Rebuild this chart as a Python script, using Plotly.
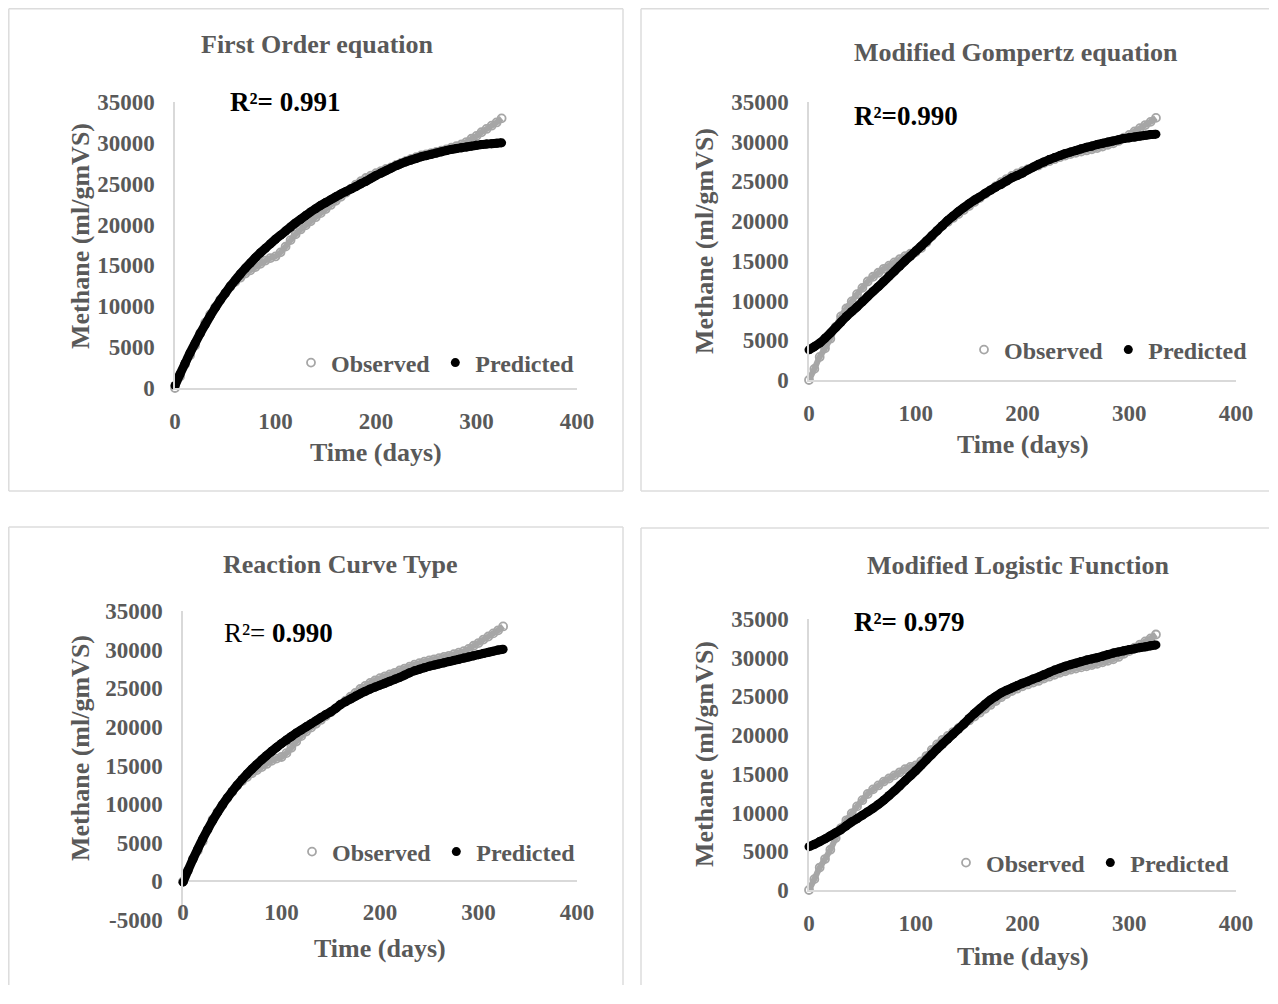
import plotly.graph_objects as go

# page body has an 8 px margin: the figure starts at (8, 8) in the window.
# keep the figure a little smaller than the window so no scrollbars appear
OX, OY = 8, 8
FW, FH = 1262, 978
XMAX, YMAX = OX + FW - 1, OY + FH - 1   # last visible pixel of the figure

# ---------------- data ----------------
days = [0, 5, 10, 15, 20, 25, 30, 35, 40, 45, 50, 55, 60, 65, 70, 75, 80, 85, 90, 95,
        100, 105, 110, 115, 120, 125, 130, 135, 140, 145, 150, 155, 160, 165, 170, 175,
        180, 185, 190, 195, 200, 205, 210, 215, 220, 225, 230, 235, 240, 245, 250, 255,
        260, 265, 270, 275, 280, 285, 290, 295, 300, 305, 310, 315, 320, 325]

observed = [0, 1400, 2900, 4000, 5200, 6700, 8000, 9000, 9900, 10800, 11600, 12400, 13000,
            13500, 14000, 14400, 14800, 15200, 15600, 15900, 16100, 16600, 17300, 18100,
            18800, 19400, 19900, 20400, 20900, 21400, 21900, 22400, 22900, 23400, 23900,
            24400, 24900, 25300, 25700, 26000, 26300, 26550, 26800, 27000, 27300, 27550,
            27800, 28050, 28250, 28450, 28600, 28750, 28900, 29050, 29200, 29400, 29600,
            29800, 30100, 30500, 30850, 31300, 31700, 32100, 32500, 33000]

pred_first_order = [300, 1700, 3000, 4300, 5500, 6650, 7750, 8800, 9800, 10750, 11600, 12450,
                    13200, 13950, 14650, 15300, 15950, 16550, 17100, 17650, 18200, 18700,
                    19200, 19700, 20200, 20650, 21100, 21550, 21950, 22350, 22700, 23050,
                    23400, 23750, 24050, 24350, 24650, 25000, 25300, 25650, 26000, 26300,
                    26600, 26900, 27200, 27450, 27700, 27900, 28100, 28300, 28450, 28600,
                    28750, 28900, 29050, 29200, 29300, 29400, 29500, 29600, 29700, 29800,
                    29850, 29900, 29950, 30000]

pred_gompertz = [3800, 4200, 4650, 5250, 5900, 6600, 7300, 8000, 8600, 9200, 9850, 10500,
                 11150, 11750, 12400, 13050, 13700, 14350, 15000, 15600, 16250, 16850, 17500,
                 18150, 18800, 19450, 20100, 20650, 21200, 21700, 22200, 22650, 23050, 23500,
                 23900, 24300, 24650, 25050, 25450, 25750, 26050, 26450, 26800, 27150, 27450,
                 27750, 28000, 28250, 28500, 28700, 28900, 29100, 29300, 29450, 29650, 29800,
                 29950, 30100, 30250, 30400, 30500, 30600, 30700, 30800, 30900, 30950]

pred_reaction = [-100, 1400, 2850, 4200, 5500, 6700, 7850, 8900, 9900, 10800, 11650, 12450,
                 13200, 13900, 14550, 15150, 15750, 16300, 16850, 17350, 17850, 18300, 18750,
                 19200, 19600, 20000, 20400, 20800, 21200, 21600, 21950, 22400, 22900, 23250,
                 23600, 23950, 24300, 24600, 24900, 25150, 25400, 25650, 25900, 26150, 26400,
                 26700, 27000, 27250, 27450, 27650, 27850, 28000, 28150, 28300, 28450, 28600,
                 28750, 28900, 29050, 29200, 29350, 29500, 29650, 29800, 29950, 30050]

pred_logistic = [5600, 5900, 6250, 6600, 7000, 7400, 7800, 8300, 8800, 9200, 9650, 10100,
                 10550, 11050, 11600, 12200, 12800, 13450, 14100, 14750, 15400, 16100, 16800,
                 17500, 18200, 18850, 19500, 20150, 20800, 21450, 22150, 22800, 23400, 24000,
                 24550, 25000, 25450, 25800, 26100, 26400, 26700, 26950, 27250, 27500, 27800,
                 28100, 28400, 28650, 28900, 29100, 29300, 29500, 29700, 29850, 30000, 30200,
                 30400, 30600, 30750, 30900, 31050, 31150, 31300, 31400, 31550, 31650]

panel_titles = ["First Order equation", "Modified Gompertz equation",
                "Reaction Curve Type", "Modified Logistic Function"]
r2_texts = ["<b>R²= 0.991</b>", "<b>R²=0.990</b>", "R²= <b>0.990</b>", "<b>R²= 0.979</b>"]
x_title = "Time (days)"
y_title = "Methane (ml/gmVS)"
predictions = [pred_first_order, pred_gompertz, pred_reaction, pred_logistic]
x_ticks = [0, 100, 200, 300, 400]
y_ticks = [0, 5000, 10000, 15000, 20000, 25000, 30000, 35000]
y_ticks_neg = [-5000, 0, 5000, 10000, 15000, 20000, 25000, 30000, 35000]
y_ranges = [[0, 35000], [0, 35000], [-5000, 35000], [0, 35000]]

# ---------------- layout (pixel geometry in window coordinates) ----------------
def px(x):
    return (x - OX) / FW

def py(y):
    return 1 - (y - OY) / FH

# plot areas: (x_left, x_right, y_top, y_bottom)
areas = [(175, 577, 102, 388), (809, 1236, 102, 380),
         (183, 577, 611, 920), (809, 1236, 619, 890)]
# panel border edges: (x0, y0, x1, y1) per edge, kept inside the figure
box_edges = [
    [(8.8, 8.8, 623, 8.8), (8.8, 8.8, 8.8, 491), (623, 8.8, 623, 491), (8.8, 491, 623, 491)],
    [(641, 8.8, XMAX, 8.8), (641, 8.8, 641, 491), (641, 491, XMAX, 491)],
    [(8.8, 527, 623, 527), (8.8, 527, 8.8, YMAX), (623, 527, 623, YMAX)],
    [(641, 528, XMAX, 528), (641, 528, 641, YMAX)],
]
title_pos = [(317, 44), (1016, 52), (340, 564), (1018, 565)]
r2_pos = [(228, 102), (852, 116), (222, 633), (852, 622)]
legend_pos = [(291, 363), (964, 350), (292, 852), (946, 863)]
ytitle_pos = [(80, 236), (704, 241), (80, 748), (704, 754)]
xtitle_pos = [(376, 453), (1023, 445), (380, 948), (1023, 956)]

GRAY_TXT = "#595959"
AXIS_C = "#d9d9d9"
OBS_C = "#a6a6a6"
FONT = "Liberation Serif"

fig = go.Figure()

for i in range(4):
    n = "" if i == 0 else str(i + 1)
    leg = "legend" if i == 0 else "legend" + str(i + 1)
    fig.add_trace(go.Scatter(
        x=days, y=observed, mode="lines", showlegend=False, hoverinfo="skip",
        xaxis="x" + n, yaxis="y" + n, cliponaxis=False,
        line=dict(color=OBS_C, width=6, shape="spline", smoothing=0.6),
    ))
    fig.add_trace(go.Scatter(
        x=days, y=observed, mode="markers", name="Observed",
        xaxis="x" + n, yaxis="y" + n, legend=leg, cliponaxis=False,
        marker=dict(symbol="circle-open", size=8, color=OBS_C,
                    line=dict(width=1.8, color=OBS_C)),
    ))
    fig.add_trace(go.Scatter(
        x=days, y=predictions[i], mode="lines", showlegend=False, hoverinfo="skip",
        xaxis="x" + n, yaxis="y" + n, cliponaxis=False,
        line=dict(color="black", width=9, shape="spline", smoothing=0.6),
    ))
    fig.add_trace(go.Scatter(
        x=days, y=predictions[i], mode="markers", name="Predicted",
        xaxis="x" + n, yaxis="y" + n, legend=leg, cliponaxis=False,
        marker=dict(symbol="circle", size=9, color="black"),
    ))

layout = dict(
    width=FW, height=FH,
    margin=dict(l=0, r=0, t=0, b=0, autoexpand=False),
    paper_bgcolor="white", plot_bgcolor="white",
    font=dict(family=FONT, color=GRAY_TXT, size=23, weight="bold"),
    shapes=[], annotations=[],
)

tickfont = dict(family=FONT, size=23, color=GRAY_TXT, weight="bold")
titlefont = dict(family=FONT, size=26, color=GRAY_TXT, weight="bold")

for i in range(4):
    n = "" if i == 0 else str(i + 1)
    xl, xr, yt, yb = areas[i]
    yv = y_ticks_neg if i == 2 else y_ticks
    xa = dict(
        domain=[px(xl), px(xr)], range=[0, 400], anchor="y" + n,
        tickvals=x_ticks, showgrid=False, zeroline=False,
        showline=(i != 2), linecolor=AXIS_C, linewidth=1.5,
        tickfont=tickfont, ticks="", ticklabelstandoff=(-24 if i == 2 else 12),
        automargin=False, fixedrange=True,
    )
    ya = dict(
        domain=[py(yb), py(yt)], range=y_ranges[i], anchor="x" + n,
        tickvals=yv, ticktext=[str(v) for v in yv], showgrid=False,
        zeroline=(i == 2), zerolinecolor=AXIS_C, zerolinewidth=1.5,
        showline=True, linecolor=AXIS_C, linewidth=1.5,
        tickfont=tickfont, ticks="", ticklabelstandoff=14,
        automargin=False, fixedrange=True,
    )
    layout["xaxis" + n] = xa
    layout["yaxis" + n] = ya

    for (ex0, ey0, ex1, ey1) in box_edges[i]:
        layout["shapes"].append(dict(
            type="line", xref="paper", yref="paper",
            x0=px(ex0), x1=px(ex1), y0=py(ey0), y1=py(ey1),
            line=dict(color="#dcdcdc", width=1.5), layer="below",
        ))
    tx, ty = title_pos[i]
    layout["annotations"].append(dict(
        text=panel_titles[i], xref="paper", yref="paper", x=px(tx), y=py(ty),
        xanchor="center", yanchor="middle", showarrow=False, font=titlefont,
    ))
    ax_, ay_ = xtitle_pos[i]
    layout["annotations"].append(dict(
        text=x_title, xref="paper", yref="paper", x=px(ax_), y=py(ay_),
        xanchor="center", yanchor="middle", showarrow=False, font=titlefont,
    ))
    yx_, yy_ = ytitle_pos[i]
    layout["annotations"].append(dict(
        text=y_title, xref="paper", yref="paper", x=px(yx_), y=py(yy_), textangle=-90,
        xanchor="center", yanchor="middle", showarrow=False, font=titlefont,
    ))
    rx, ry = r2_pos[i]
    layout["annotations"].append(dict(
        text=r2_texts[i], xref="paper", yref="paper", x=px(rx), y=py(ry),
        xanchor="left", yanchor="middle", showarrow=False,
        font=dict(family=FONT, size=27, color="black", weight="normal"),
    ))
    lx, ly = legend_pos[i]
    lname = "legend" if i == 0 else "legend" + str(i + 1)
    layout[lname] = dict(
        x=px(lx), y=py(ly), xanchor="left", yanchor="middle",
        orientation="h", bgcolor="rgba(0,0,0,0)", borderwidth=0,
        font=dict(family=FONT, size=24, color=GRAY_TXT, weight="bold"),
        itemwidth=30, tracegroupgap=0,
    )

fig.update_layout(**layout)
fig.write_html("out.html")
